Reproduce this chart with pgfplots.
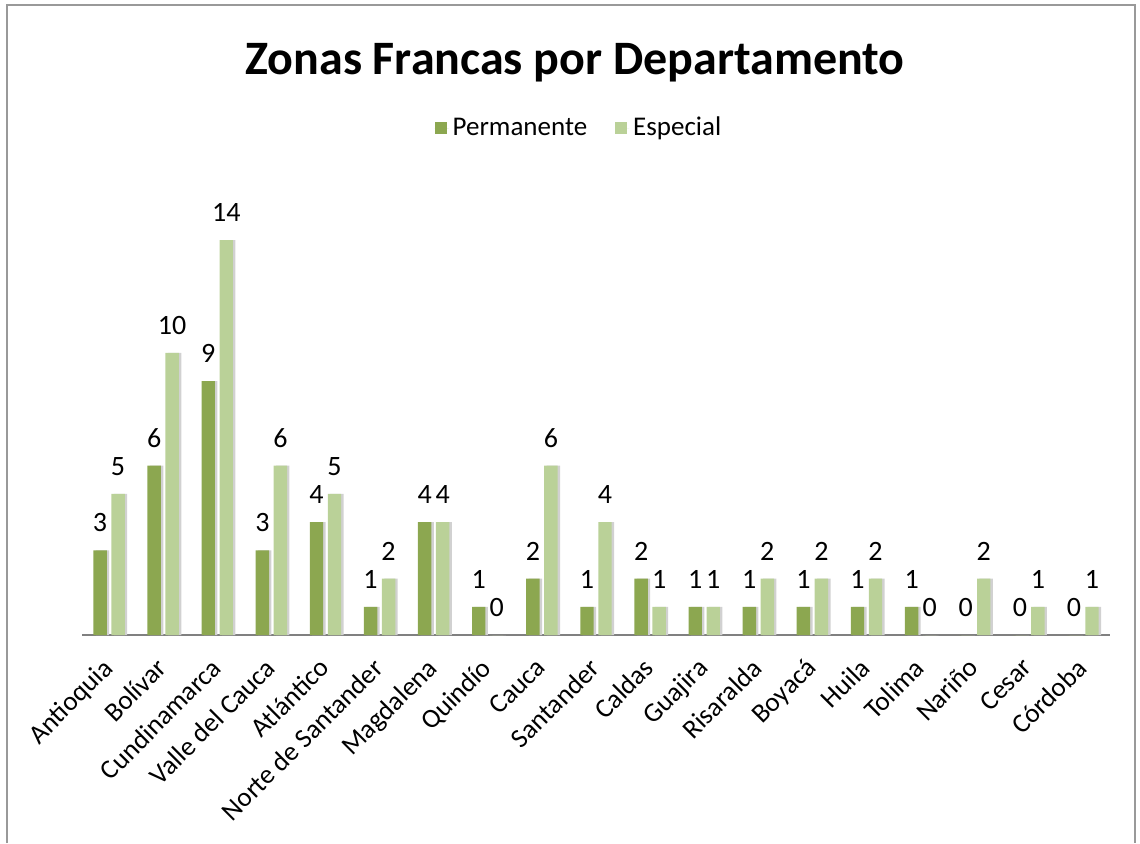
\documentclass[border=0pt]{standalone}
\usepackage{pgfplots}
\pgfplotsset{compat=1.18}
\usepackage{fontspec}
\setmainfont{Carlito}
\definecolor{perm}{HTML}{8CA750}
\definecolor{esp}{HTML}{BAD198}
\pgfplotstableread{
x perm esp
0 3 5
1 6 10
2 9 14
3 3 6
4 4 5
5 1 2
6 4 4
7 1 0
8 2 6
9 1 4
10 2 1
11 1 1
12 1 2
13 1 2
14 1 2
15 1 0
16 0 2
17 0 1
18 0 1
}\datatable
\begin{document}
\begin{tikzpicture}[x=1pt,y=1pt]
\path[use as bounding box] (0,0) rectangle (570,421.5);
\draw[gray!80, line width=0.7pt] (3.5,0) -- (3.5,419) -- (567.5,419) -- (567.5,0);
\node[font=\fontsize{24}{28}\selectfont\bfseries] at (287.5,390) {Zonas Francas por Departamento};
\begin{axis}[
  at={(41pt,104pt)}, anchor=south west, scale only axis,
  width=514pt, height=197.5pt,
  ybar, bar width=6.7pt,
  ymin=0, ymax=14, xmin=-0.5, xmax=18.5,
  clip=false,
  axis x line=bottom, axis y line=none,
  x axis line style={-, draw=gray, line width=1pt},
  xtick={0,...,18}, xtick style={draw=none},
  xticklabels={Antioquia,Bolívar,Cundinamarca,Valle del Cauca,Atlántico,Norte de Santander,Magdalena,Quindío,Cauca,Santander,Caldas,Guajira,Risaralda,Boyacá,Huila,Tolima,Nariño,Cesar,Córdoba},
  xticklabel style={xshift=-4pt, yshift=-7pt, rotate=45, anchor=north east, font=\fontsize{13.5}{16}\selectfont, inner sep=1pt},
  /pgf/number format/assume math mode=true,
  legend columns=2,
  legend style={draw=none, at={(0.4844,1.2835)}, anchor=center, font=\fontsize{13.5}{16}\selectfont,
    /tikz/every even column/.append style={column sep=12pt}},
  legend image code/.code={\fill[#1] (0pt,-3pt) rectangle (6pt,3pt); \path (0pt,0) -- (7pt,0);},
  lbl/.style={nodes near coords, every node near coord/.append style={font=\fontsize{14}{16}\selectfont, black, inner sep=2pt, yshift=7pt}},
]
\addplot[fill=black!18, draw=none, bar shift=-3.3pt, forget plot] table[x=x,y=perm] {\datatable};
\addplot[fill=black!18, draw=none, bar shift=5.7pt, forget plot] table[x=x,y=esp] {\datatable};
\addplot[fill=perm, draw=none, bar shift=-4.5pt, lbl] table[x=x,y=perm] {\datatable};
\addplot[fill=esp, draw=none, bar shift=4.5pt, lbl] table[x=x,y=esp] {\datatable};
\legend{Permanente, Especial}
\end{axis}
\end{tikzpicture}
\end{document}
